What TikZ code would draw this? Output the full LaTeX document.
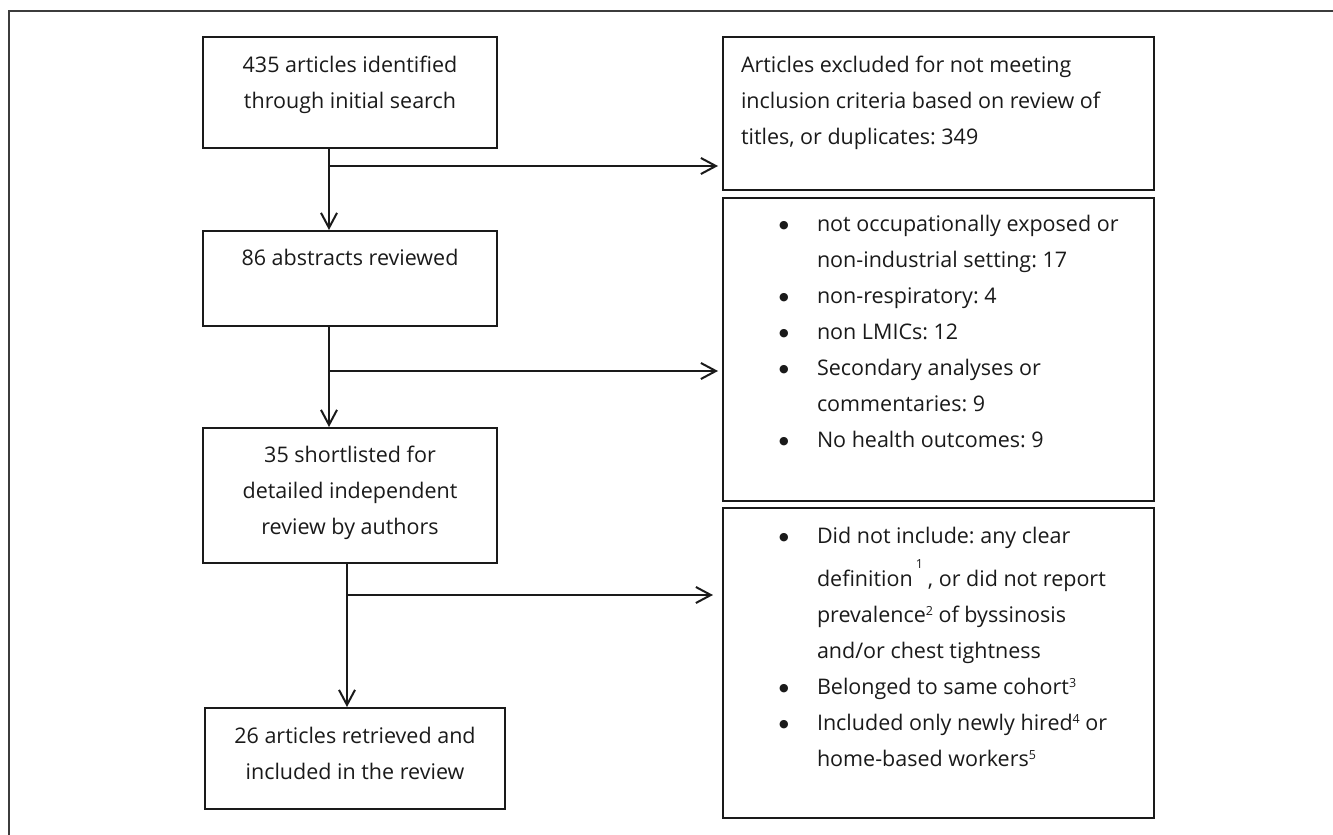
\documentclass[tikz,border=0pt]{standalone}
\usepackage{fontspec}
\setmainfont{Open Sans}
\newfontfamily\symfont{DejaVu Sans}
\usetikzlibrary{arrows.meta}
\definecolor{ink}{HTML}{1A1A1A}
\frenchspacing
\newcommand\bitem{\hspace*{56pt}\makebox[38pt][l]{\symfont\fontsize{11}{11}\selectfont\raisebox{2.5pt}{●}}}
\newcommand\bcont{\hspace*{94pt}}
\newcommand\supnum[2]{\raisebox{#1}{\fontsize{12.5}{12}\selectfont #2}}
\begin{document}
\begin{tikzpicture}[x=1pt,y=-1pt,
  fbox/.style={draw=ink, line width=2pt, inner sep=0pt, anchor=north west, text=ink,
    font=\fontsize{21.5}{36}\selectfont\frenchspacing},
  conn/.style={draw=ink, line width=2pt},
  arr/.style={conn, -{Straight Barb[length=15pt,width=16pt,line width=2pt]}}]
\useasboundingbox (0,0) rectangle (1333,835);
% outer frame (only top and left visible)
\draw[draw=ink!85, line width=2pt] (1333,11) -- (9,11) -- (9,835);

\node[fbox] (b1) at (202,36) {\parbox[c][111pt][t]{294pt}{\centering\rule{0pt}{35pt}435 articles identified\\through initial search}};
\node[fbox] (b2) at (202,230) {\parbox[c][95pt][t]{294pt}{\centering\rule{0pt}{34pt}86 abstracts reviewed}};
\node[fbox] (b3) at (202,427) {\parbox[c][135pt][t]{294pt}{\centering\rule{0pt}{34pt}35 shortlisted for\\detailed independent\\review by authors}};
\node[fbox] (b4) at (204,707) {\parbox[c][101pt][t]{300pt}{\centering\rule{0pt}{35pt}26 articles retrieved and\\included in the review}};

\node[fbox] (r1) at (722,36) {\parbox[c][153pt][t]{431pt}{\raggedright\leftskip=18pt\rule{0pt}{35pt}Articles excluded for not meeting\\inclusion criteria based on review of\\titles, or duplicates: 349}};
\node[fbox] (r2) at (722,197) {\parbox[c][303pt][t]{431pt}{\raggedright\rule{0pt}{33pt}\bitem not occupationally exposed or\\
\bcont non-industrial setting: 17\\
\bitem non-respiratory: 4\\
\bitem non LMICs: 12\\
\bitem Secondary analyses or\\
\bcont commentaries: 9\\
\bitem No health outcomes: 9}};
\node[fbox] (r3) at (722,507) {\parbox[c][310pt][t]{431pt}{\raggedright\rule{0pt}{35pt}\bitem Did not include: any clear\\[7pt]
\bcont definition\hspace{3pt}\supnum{18pt}{1}\hspace{5pt}, or did not report\\
\bcont prevalence\supnum{7pt}{2} of byssinosis\\
\bcont and/or chest tightness\\
\bitem Belonged to same cohort\supnum{7pt}{3}\\
\bitem Included only newly hired\supnum{7pt}{4} or\\
\bcont home-based workers\supnum{7pt}{5}}};

\coordinate (c1) at (329,166);
\coordinate (c2) at (329,371);
\coordinate (c3) at (347,595);

\draw[arr] (b1.south -| c1) -- (b2.north -| c1);
\draw[arr, shorten >=4pt] (c1) -- (r1.west |- c1);
\draw[arr] (b2.south -| c2) -- (b3.north -| c2);
\draw[arr, shorten >=4pt] (c2) -- (r2.west |- c2);
\draw[arr] (b3.south -| c3) -- (b4.north -| c3);
\draw[arr, shorten >=9pt] (c3) -- (r3.west |- c3);
\end{tikzpicture}
\end{document}
